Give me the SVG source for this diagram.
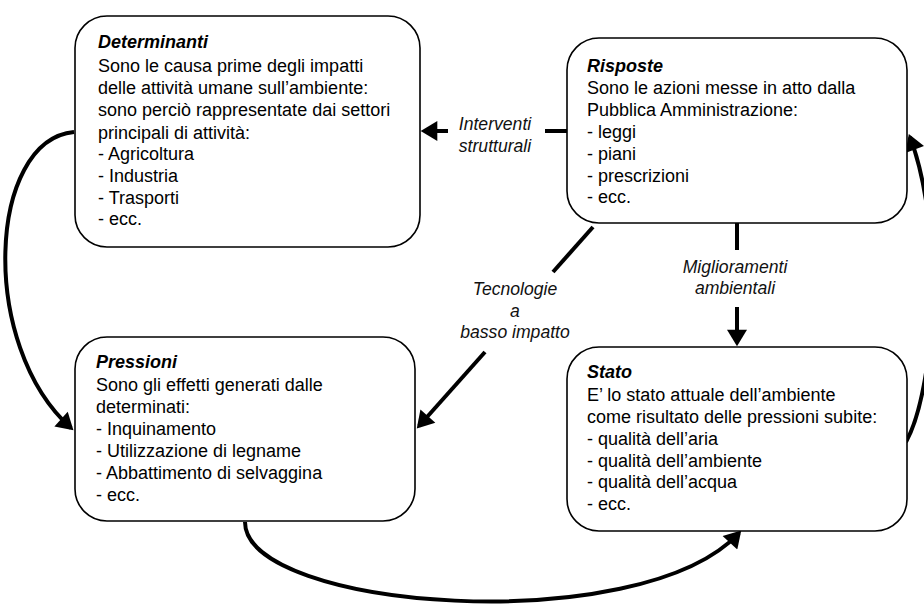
<svg xmlns="http://www.w3.org/2000/svg" width="924" height="611" viewBox="0 0 924 611">
<style>
.box{fill:#fff;stroke:#000;stroke-width:1.6}
.t{font-family:"Liberation Sans",Arial,sans-serif;font-size:18px;fill:#000}
.h{font-weight:bold;font-style:italic}
.lbl{font-family:"Liberation Sans",Arial,sans-serif;font-size:17.6px;font-style:italic;fill:#111;text-anchor:middle}
.c{fill:none;stroke:#000;stroke-width:4}
</style>
<defs>
<marker id="ah" markerUnits="userSpaceOnUse" markerWidth="20" markerHeight="20" refX="12" refY="9" orient="auto" viewBox="0 0 16 18">
<path d="M0,0 L15,9 L0,18 z" fill="#000"/>
</marker>
</defs>
<g id="connectors">
<line class="c" x1="567" y1="131" x2="545" y2="131"/>
<line class="c" x1="448" y1="131" x2="424" y2="131" marker-end="url(#ah)"/>
<line class="c" x1="593" y1="227" x2="553" y2="272"/>
<line class="c" x1="485" y1="352" x2="419" y2="426" marker-end="url(#ah)"/>
<line class="c" x1="737" y1="223" x2="737" y2="250"/>
<line class="c" x1="737" y1="307" x2="737" y2="343" marker-end="url(#ah)"/>
<path class="c" d="M74,132 C-12,140 -22,345 71,428" marker-end="url(#ah)"/>
<path class="c" d="M245,522 C245,610 640,640 739,533" marker-end="url(#ah)"/>
<path class="c" d="M906,442 C935,390 945,230 910,137" marker-end="url(#ah)"/>
</g>
<g id="determinanti">
<rect class="box" x="75" y="16" width="345" height="231" rx="32"/>
<text class="t" x="98"><tspan class="h" x="98" y="48">Determinanti</tspan><tspan x="98" y="72">Sono le causa prime degli impatti</tspan><tspan x="98" y="94">delle attività umane sull’ambiente:</tspan><tspan x="98" y="116">sono perciò rappresentate dai settori</tspan><tspan x="98" y="139">principali di attività:</tspan><tspan x="98" y="160">- Agricoltura</tspan><tspan x="98" y="182">- Industria</tspan><tspan x="98" y="204">- Trasporti</tspan><tspan x="98" y="225">- ecc.</tspan></text>
</g>
<g id="risposte">
<rect class="box" x="567" y="38" width="340" height="185" rx="32"/>
<text class="t"><tspan class="h" x="587" y="72">Risposte</tspan><tspan x="587" y="94">Sono le azioni messe in atto dalla</tspan><tspan x="587" y="116">Pubblica Amministrazione:</tspan><tspan x="587" y="138">- leggi</tspan><tspan x="587" y="160">- piani</tspan><tspan x="587" y="182">- prescrizioni</tspan><tspan x="587" y="203">- ecc.</tspan></text>
</g>
<g id="pressioni">
<rect class="box" x="75" y="337" width="340" height="184" rx="32"/>
<text class="t"><tspan class="h" x="96" y="368">Pressioni</tspan><tspan x="96" y="391">Sono gli effetti generati dalle</tspan><tspan x="96" y="413">determinati:</tspan><tspan x="96" y="435">- Inquinamento</tspan><tspan x="96" y="457">- Utilizzazione di legname</tspan><tspan x="96" y="479">- Abbattimento di selvaggina</tspan><tspan x="96" y="501">- ecc.</tspan></text>
</g>
<g id="stato">
<rect class="box" x="567" y="347" width="340" height="184" rx="32"/>
<text class="t"><tspan class="h" x="587" y="378">Stato</tspan><tspan x="587" y="401">E’ lo stato attuale dell’ambiente</tspan><tspan x="587" y="423">come risultato delle pressioni subite:</tspan><tspan x="587" y="445">- qualità dell’aria</tspan><tspan x="587" y="467">- qualità dell’ambiente</tspan><tspan x="587" y="488">- qualità dell’acqua</tspan><tspan x="587" y="510">- ecc.</tspan></text>
</g>
<g id="labels">
<text class="lbl"><tspan x="495" y="130">Interventi</tspan><tspan x="495" y="152">strutturali</tspan></text>
<text class="lbl"><tspan x="515" y="295">Tecnologie</tspan><tspan x="515" y="317">a</tspan><tspan x="515" y="338">basso impatto</tspan></text>
<text class="lbl"><tspan x="735" y="273">Miglioramenti</tspan><tspan x="735" y="294">ambientali</tspan></text>
</g>
</svg>
